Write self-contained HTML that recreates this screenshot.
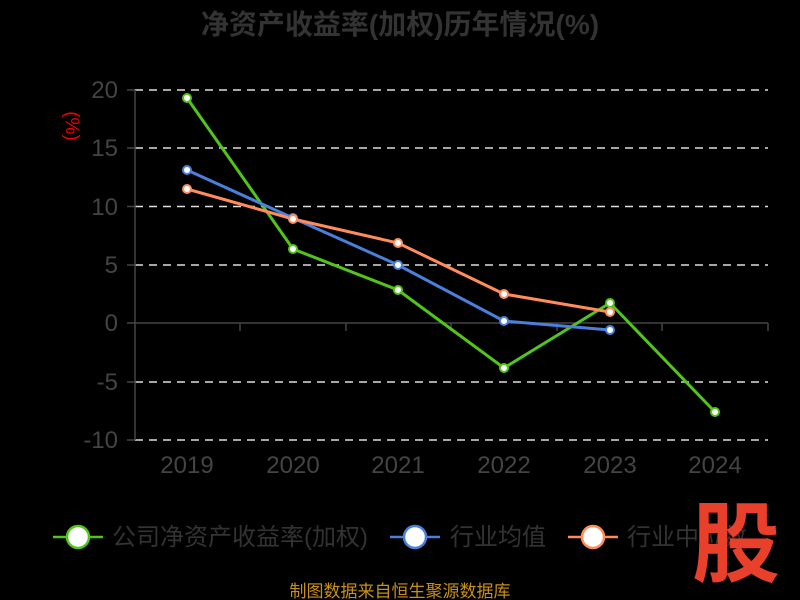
<!DOCTYPE html>
<html><head><meta charset="utf-8"><style>
html,body{margin:0;padding:0;background:#000;width:800px;height:600px;overflow:hidden}
text{font-family:"Liberation Sans","Noto Sans CJK SC",sans-serif}
</style></head><body>
<svg width="800" height="600" viewBox="0 0 800 600" xmlns="http://www.w3.org/2000/svg">
<rect width="800" height="600" fill="#000"/>
<text x="400" y="34" text-anchor="middle" font-size="28" font-weight="bold" fill="#333">净资产收益率(加权)历年情况(%)</text>
<text transform="translate(66,126) rotate(90)" text-anchor="middle" font-size="19" fill="#e00">(%)</text>
<g stroke="#ddd" stroke-width="1.5" stroke-dasharray="8,6">
<line x1="135" y1="90" x2="768" y2="90"/><line x1="135" y1="148" x2="768" y2="148"/>
<line x1="135" y1="206.5" x2="768" y2="206.5"/><line x1="135" y1="265" x2="768" y2="265"/>
<line x1="135" y1="382" x2="768" y2="382"/><line x1="135" y1="440" x2="768" y2="440"/>
</g>
<g stroke="#444" stroke-width="1.5">
<line x1="135" y1="90" x2="135" y2="440"/>
<line x1="135" y1="323" x2="768" y2="323"/>
<line x1="127" y1="90" x2="135" y2="90"/><line x1="127" y1="148" x2="135" y2="148"/><line x1="127" y1="206.5" x2="135" y2="206.5"/><line x1="127" y1="265" x2="135" y2="265"/><line x1="127" y1="323" x2="135" y2="323"/><line x1="127" y1="382" x2="135" y2="382"/><line x1="127" y1="440" x2="135" y2="440"/>
<line x1="240" y1="323" x2="240" y2="331"/><line x1="346" y1="323" x2="346" y2="331"/><line x1="451" y1="323" x2="451" y2="331"/><line x1="557" y1="323" x2="557" y2="331"/><line x1="662" y1="323" x2="662" y2="331"/><line x1="768" y1="323" x2="768" y2="331"/>
</g>
<g font-size="24" fill="#444" text-anchor="end">
<text x="118" y="98">20</text><text x="118" y="156">15</text><text x="118" y="215">10</text><text x="118" y="273">5</text><text x="118" y="331">0</text><text x="118" y="390">-5</text><text x="118" y="448">-10</text>
</g>
<g font-size="24" fill="#444" text-anchor="middle">
<text x="187" y="473">2019</text><text x="293" y="473">2020</text><text x="398" y="473">2021</text><text x="504" y="473">2022</text><text x="610" y="473">2023</text><text x="715" y="473">2024</text>
</g>
<g fill="#fff" stroke-width="2">
<polyline points="187,98 293,249 398,290 504,368 610,303 715,412" fill="none" stroke="#52c41a" stroke-width="3"/>
<polyline points="187,170 293,218 398,265 504,321 610,330" fill="none" stroke="#4a7fdc" stroke-width="3"/>
<polyline points="187,189 293,219 398,243 504,294 610,312" fill="none" stroke="#ff8c5a" stroke-width="3"/>
<g stroke="#52c41a"><circle cx="187" cy="98" r="4"/><circle cx="293" cy="249" r="4"/><circle cx="398" cy="290" r="4"/><circle cx="504" cy="368" r="4"/><circle cx="610" cy="303" r="4"/><circle cx="715" cy="412" r="4"/></g>
<g stroke="#4a7fdc"><circle cx="187" cy="170" r="4"/><circle cx="293" cy="218" r="4"/><circle cx="398" cy="265" r="4"/><circle cx="504" cy="321" r="4"/><circle cx="610" cy="330" r="4"/></g>
<g stroke="#ff8c5a"><circle cx="187" cy="189" r="4"/><circle cx="293" cy="219" r="4"/><circle cx="398" cy="243" r="4"/><circle cx="504" cy="294" r="4"/><circle cx="610" cy="312" r="4"/></g>
</g>
<g stroke-width="2.5" fill="#fff">
<line x1="53" y1="537" x2="103" y2="537" stroke="#52c41a"/><ellipse cx="78" cy="537" rx="11" ry="11" stroke="#52c41a"/>
<line x1="390" y1="537" x2="440" y2="537" stroke="#4a7fdc"/><ellipse cx="415" cy="537" rx="11" ry="11" stroke="#4a7fdc"/>
<line x1="568" y1="537" x2="618" y2="537" stroke="#ff8c5a"/><ellipse cx="593" cy="537" rx="11" ry="11" stroke="#ff8c5a"/>
</g>
<g font-size="24" fill="#333">
<text x="112" y="545">公司净资产收益率(加权)</text>
<text x="450" y="545">行业均值</text>
<text x="627" y="545">行业中位数</text>
</g>
<text x="736" y="575" text-anchor="middle" font-size="88" font-weight="bold" fill="#e8402a">股</text>
<text x="400" y="597" text-anchor="middle" font-size="17" fill="#c8901a">制图数据来自恒生聚源数据库</text>
</svg>
</body></html>
